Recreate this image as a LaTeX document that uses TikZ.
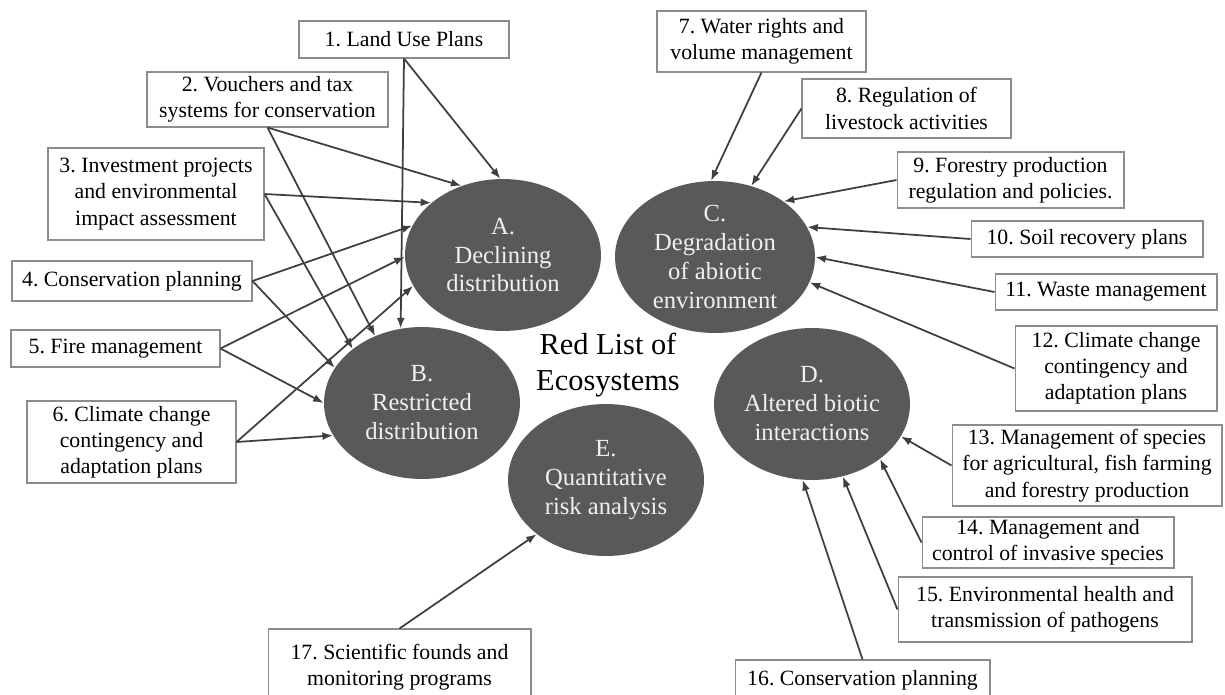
\documentclass[tikz,border=0pt]{standalone}
\usepackage{fontspec}
\setmainfont{Liberation Serif}
\usepackage{xcolor}
\usepackage{tikz}
\usetikzlibrary{ shapes.geometric }
\usetikzlibrary{arrows.meta}
\frenchspacing

\definecolor{riskgray}{HTML}{595959}
\definecolor{linkgray}{HTML}{3F3F3F}
\definecolor{framegray}{HTML}{8C8C8C}

\begin{document}
\begin{tikzpicture} [
    x=0.02cm, y=-0.02cm,
    box/.style = {draw=framegray, line width=0.6pt, fill=white, align=center, inner sep=0pt, font=\fontsize{12.4}{14.9}\selectfont},
    risk/.style = {ellipse, fill=riskgray, text=white!94!black, align=center, inner sep=0pt, minimum width=3.92cm, minimum height=3.04cm, font=\fontsize{14}{16.5}\selectfont},
    link/.style = {draw=linkgray, line width=1pt, -{Latex[length=6pt,width=4.5pt]}}
]
    \useasboundingbox (0,0) rectangle (1225,694);

    % criteria
    \node[risk] (declining) at (503,255) {A.\\Declining\\distribution};
    \node[risk] (restricted) at (422,403) {B.\\Restricted\\distribution};
    \node[risk, minimum width=4cm] (abiotic) at (715,257) {C.\\Degradation\\of abiotic\\environment};
    \node[risk] (biotic) at (812,404) {D.\\Altered biotic\\interactions};
    \node[risk] (quant) at (606,480) {E.\\Quantitative\\risk analysis};
    \node[align=center, font=\fontsize{17.3}{20.4}\selectfont] (rle) at (608,365) {Red List of\\Ecosystems};

    % instruments
    \node[box, minimum width=4.20cm, minimum height=0.74cm] (landuse) at (404,39.5) {1. Land Use Plans};
    \node[box, minimum width=4.82cm, minimum height=1.10cm] (vouchers) at (267.5,99.5) {2. Vouchers and tax\\systems for conservation};
    \node[box, minimum width=4.32cm, minimum height=1.84cm] (invest) at (156,194) {3. Investment projects\\and environmental\\impact assessment};
    \node[box, minimum width=4.80cm, minimum height=0.80cm] (consplanA) at (132,281) {4. Conservation planning};
    \node[box, minimum width=4.18cm, minimum height=0.74cm] (fire) at (115.5,348.5) {5. Fire management};
    \node[box, minimum width=4.18cm, minimum height=1.64cm] (climateA) at (131.5,442) {6. Climate change\\contingency and\\adaptation plans};
    \node[box, minimum width=4.18cm, minimum height=1.22cm] (water) at (761.5,41.5) {7. Water rights and\\volume management};
    \node[box, minimum width=4.18cm, minimum height=1.18cm] (livestock) at (906.5,108.5) {8. Regulation of\\livestock activities};
    \node[box, minimum width=4.54cm, minimum height=1.12cm] (forestry) at (1010.5,180) {9. Forestry production\\regulation and policies.};
    \node[box, minimum width=4.64cm, minimum height=0.72cm] (soil) at (1087,239) {10. Soil recovery plans};
    \node[box, minimum width=4.44cm, minimum height=0.72cm] (waste) at (1106,292) {11. Waste management};
    \node[box, minimum width=4.04cm, minimum height=1.70cm] (climateC) at (1116,368.5) {12. Climate change\\contingency and\\adaptation plans};
    \node[box, minimum width=5.40cm, minimum height=1.62cm] (species) at (1087,465.5) {13. Management of species\\for agricultural, fish farming\\and forestry production};
    \node[box, minimum width=5.04cm, minimum height=1.02cm] (invasive) at (1048,542.5) {14. Management and\\control of invasive species};
    \node[box, minimum width=5.88cm, minimum height=1.30cm] (health) at (1045,609.5) {15. Environmental health and\\transmission of pathogens};
    \node[box, minimum width=5.10cm, minimum height=0.80cm] (consplanD) at (862.5,680) {16. Conservation planning};
    \node[box, minimum width=5.26cm, minimum height=1.52cm] (science) at (399.5,667) {17. Scientific founds and\\monitoring programs};

    % links to A and B
    \draw[link] (landuse.south) -- (declining.92);
    \draw[link] (landuse.south) -- (restricted.106);
    \draw[link] (vouchers.south) -- (declining.121);
    \draw[link] (vouchers.south) -- (restricted.125);
    \draw[link] (invest.east) -- (declining.144);
    \draw[link] (invest.east) -- (restricted.142);
    \draw[link] (consplanA.east) -- (declining.162);
    \draw[link] (consplanA.east) -- (restricted.158);
    \draw[link] (fire.east) -- (declining.181);
    \draw[link] (fire.east) -- (restricted.180);
    \draw[link] (climateA.east) -- (declining.199);
    \draw[link] (climateA.east) -- (restricted.200);

    % links to C
    \draw[link] (water.south) -- (abiotic.93);
    \draw[link] (livestock.west) -- (abiotic.63);
    \draw[link] (forestry.west) -- (abiotic.39);
    \draw[link] (soil.west) -- (abiotic.18);
    \draw[link] (waste.west) -- (abiotic.0);
    \draw[link] (climateC.west) -- (abiotic.345);

    % links to D and E
    \draw[link] (species.west) -- (biotic.340);
    \draw[link] (invasive.west) -- (biotic.321);
    \draw[link] (health.west) -- (biotic.293);
    \draw[link] (consplanD.north) -- (biotic.263);
    \draw[link] (science.north) -- (quant.218);
\end{tikzpicture}
\end{document}
